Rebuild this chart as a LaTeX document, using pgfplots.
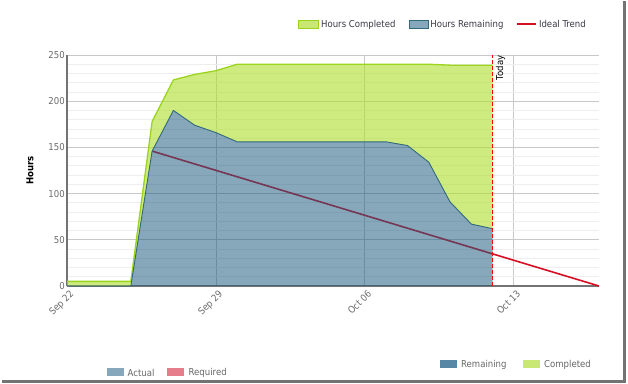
\documentclass[border=0pt]{standalone}
\usepackage{pgfplots}
\pgfplotsset{compat=1.18}
\usepgfplotslibrary{fillbetween}
\usepackage{fontspec}
\setmainfont{DejaVu Sans Condensed}
\definecolor{gridmaj}{RGB}{200,200,200}
\definecolor{gridmin}{RGB}{238,238,238}
\definecolor{tickgray}{RGB}{105,105,105}
\definecolor{greenfill}{RGB}{172,222,40}
\definecolor{greenline}{RGB}{155,212,30}
\definecolor{bluefill}{RGB}{28,90,125}
\definecolor{blueline}{RGB}{50,105,125}
\definecolor{trendred}{RGB}{215,15,35}
\definecolor{actualbox}{RGB}{135,168,188}
\definecolor{requiredbox}{RGB}{230,125,138}
\definecolor{remainbox}{RGB}{88,135,165}
\definecolor{complbox}{RGB}{200,232,115}
\definecolor{legtext}{RGB}{60,55,70}
\pgfplotstableread{
day total
0 5
3 5
4 178
5 223
6 229
7 233
8 240
17 240
18 239
19 239
20 239
}\totaltab
\pgfplotstableread{
day rem
0 0
3 0
4 146
5 190
6 174
7 166
8 156
15 156
16 152
17 134
18 91
19 67
20 62
}\remtab
\begin{document}
\begin{tikzpicture}[font=\fontsize{9.5bp}{11.4bp}\selectfont]
\path (0,0) rectangle (628bp,384bp);
% frame shadow
\fill[black!55] (623bp,2bp) rectangle (626bp,383bp);
\fill[black!55] (2bp,1bp) rectangle (626bp,4bp);
\begin{axis}[
  set layers,
  at={(67bp,98bp)}, anchor=south west,
  scale only axis, width=532bp, height=231bp,
  xmin=0, xmax=25, ymin=0, ymax=250,
  axis x line*=bottom, axis y line*=left,
  axis line style={black!55, line width=1.2bp},
  xtick={0,7,14,21}, xticklabels={Sep 22,Sep 29,Oct 06,Oct 13},
  ytick={0,50,...,250}, minor ytick={10,20,...,240},
  xmajorgrids, ymajorgrids, yminorgrids,
  major grid style={gridmaj, line width=0.9bp},
  minor grid style={gridmin, line width=0.8bp},
  major tick length=0pt, minor tick length=0pt,
  tick label style={tickgray, font=\fontsize{9.5bp}{11.4bp}\selectfont},
  /pgf/number format/assume math mode=true,
  x tick label style={rotate=45, anchor=north east, inner sep=1bp, yshift=-3bp},
  y tick label style={inner sep=2bp},
  ylabel={\textbf{Hours}},
  ylabel style={black, font=\fontsize{9.5bp}{11.4bp}\selectfont, at={(axis description cs:-0.0695,0.5)}, anchor=center},
  clip=false,
  legend columns=3,
  legend style={at={(axis description cs:1,1)}, anchor=south east, yshift=22bp, xshift=-8bp, draw=none, fill=none,
    font=\fontsize{9.5bp}{11.4bp}\selectfont, text=legtext,
    nodes={inner xsep=2bp},
    /tikz/every odd column/.append style={column sep=0bp},
    /tikz/every even column/.append style={column sep=11bp}},
  legend cell align=left,
]
% ideal trend (under the areas)
\addplot[trendred, line width=1.6bp, forget plot, on layer=pre main] coordinates {(4,146) (25,0)};
\addplot[name path=tot, draw=none, forget plot] table[x=day,y=total] {\totaltab};
\addplot[name path=rem, draw=none, forget plot] table[x=day,y=rem] {\remtab};
\addplot[name path=zero, draw=none, forget plot] coordinates {(0,0) (20,0)};
\addplot[fill=greenfill, fill opacity=0.6, draw=none, forget plot] fill between[of=tot and rem];
\addplot[fill=bluefill, fill opacity=0.53, draw=none, forget plot] fill between[of=rem and zero];
\addplot[greenline, line width=1.3bp, forget plot] table[x=day,y=total] {\totaltab};
\addplot[blueline, line width=0.9bp, forget plot] table[x=day,y=rem] {\remtab};
% today
\addplot[red, line width=0.9bp, dash pattern=on 4bp off 2bp, forget plot] coordinates {(20,0) (20,250)};
\node[rotate=90, anchor=north east, inner sep=1bp, font=\fontsize{9.5bp}{11.4bp}\selectfont] at (axis cs:20,250) [xshift=0.5bp, yshift=-2bp] {Today};
% legend entries
\addlegendimage{legend image code/.code={\draw[fill=complbox, draw=greenline, line width=0.8bp] (0bp,-4bp) rectangle (20bp,4.5bp);}}
\addlegendentry{Hours Completed}
\addlegendimage{legend image code/.code={\draw[fill=actualbox, draw=blueline, line width=0.8bp] (0bp,-4bp) rectangle (19bp,4.5bp);}}
\addlegendentry{Hours Remaining}
\addlegendimage{legend image code/.code={\draw[trendred, line width=1.6bp] (0bp,0.3bp) -- (19bp,0.3bp);}}
\addlegendentry{Ideal Trend}
\end{axis}
% bottom legends
\fill[actualbox] (107bp,7.5bp) rectangle (124bp,15.5bp);
\node[anchor=west, text=black!60, inner sep=0] at (127.5bp,11.5bp) {Actual};
\fill[requiredbox] (167bp,7.5bp) rectangle (184bp,15.5bp);
\node[anchor=west, text=black!60, inner sep=0] at (188.5bp,11.5bp) {Required};
\fill[remainbox] (440bp,15.5bp) rectangle (457bp,24bp);
\node[anchor=west, text=black!60, inner sep=0] at (461bp,19.5bp) {Remaining};
\fill[complbox] (523bp,15.5bp) rectangle (540bp,24bp);
\node[anchor=west, text=black!60, inner sep=0] at (544bp,19.5bp) {Completed};
\end{tikzpicture}
\end{document}
